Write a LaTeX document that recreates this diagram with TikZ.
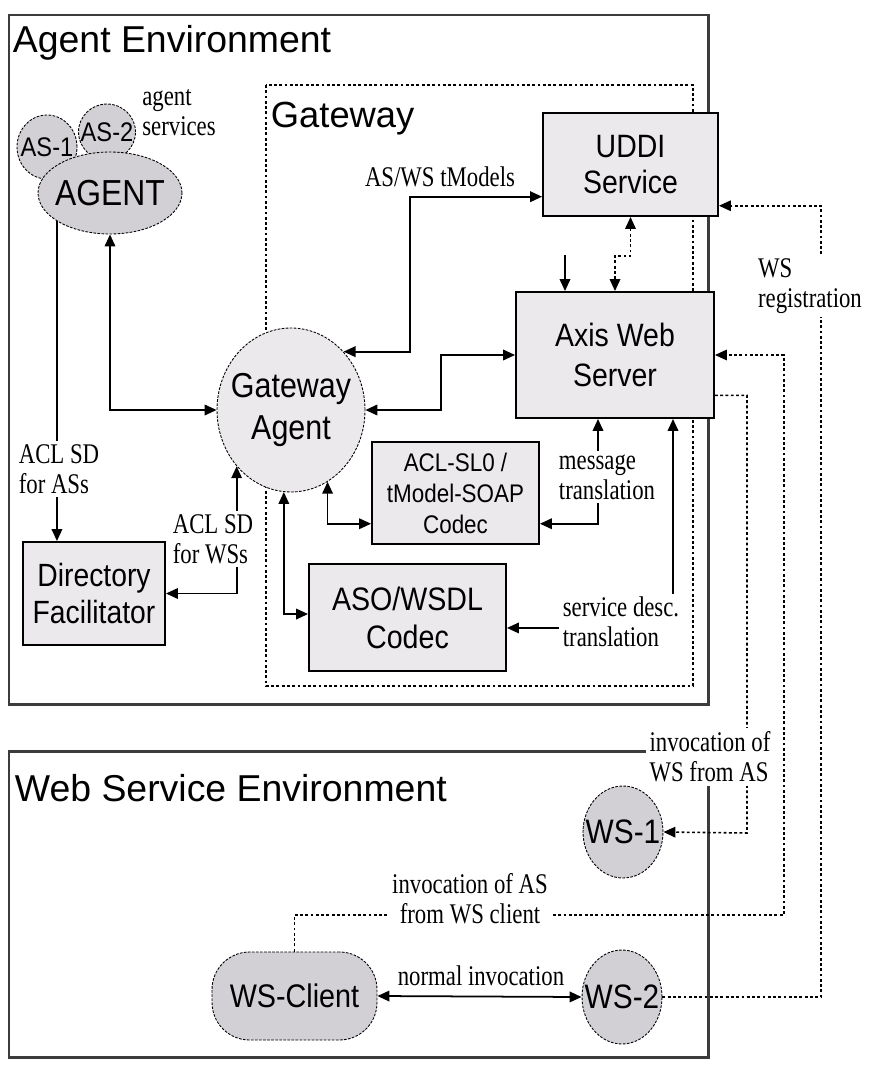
\documentclass[tikz,border=0pt]{standalone}
\usepackage{fontspec}
\setmainfont{Liberation Sans}
\newfontfamily\boxfont{Liberation Sans}[FakeStretch=0.88]
\newfontfamily\lblfont{Liberation Serif}[FakeStretch=0.8]
\usepackage{tikz}
\usetikzlibrary{shapes.geometric,arrows.meta}

\definecolor{boxfill}{RGB}{236,233,237}
\definecolor{agfill}{RGB}{211,208,213}
\definecolor{envline}{RGB}{60,60,60}
\newcommand{\zwtext}[1]{\makebox[0pt]{#1}}

\tikzset{
  box/.style={draw, line width=1.1pt, fill=boxfill, align=center, inner sep=0pt},
  blob/.style={ellipse, draw, dash pattern=on 1.5pt off 0.8pt, line width=0.5pt, fill=agfill, align=center, inner sep=0pt},
  lbl/.style={font=\lblfont\fontsize{16.2}{17}\selectfont, align=left, inner sep=2pt},
  cover/.style={lbl, fill=white},
  dots/.style={dash pattern=on 1.6pt off 1.4pt, line width=0.9pt},
  envbox/.style={draw=envline, line width=1.7pt},
  title/.style={font=\fontsize{21.3}{24}\selectfont, anchor=base west, inner sep=0pt}
}

\begin{document}
\begin{tikzpicture}[x=0.02cm, y=-0.02cm, line width=1pt, >={Triangle[length=6.8pt,width=6pt]}]
    \useasboundingbox (0,0) rectangle (875,1068);
    \draw[envbox] (9,15) rectangle (708,704);
    \draw[envbox] (9,751) rectangle (708,1057);
    \draw[dots] (266,85) rectangle (693,686);
    \node[title] (aetitle) at (12,53) {Agent Environment};
    \node[title, font=\fontsize{20.7}{24}\selectfont] (gwtitle) at (270,128) {Gateway};
    \node[title] (wstitle) at (14,801) {Web Service Environment};

    \node[blob, minimum width=1.2cm, minimum height=1.28cm, font=\boxfont\fontsize{15.3}{17}\selectfont] (as1) at (47,147) {\zwtext{AS-1}};
    \node[blob, minimum width=1.14cm, minimum height=1.12cm, font=\boxfont\fontsize{15.3}{17}\selectfont] (as2) at (107,132) {\zwtext{AS-2}};
    \node[blob, minimum width=2.88cm, minimum height=1.64cm, font=\boxfont\fontsize{20.6}{24}\selectfont] (agent) at (110,193) {\zwtext{AGENT}};
    \node[box, minimum width=3.5cm, minimum height=2.06cm, font=\boxfont\fontsize{18.4}{21}\selectfont] (uddi) at (630.5,164.5) {UDDI\\Service};
    \node[box, minimum width=3.96cm, minimum height=2.52cm, font=\boxfont\fontsize{18.4}{22.7}\selectfont] (axis) at (615,355) {Axis Web\\Server};
    \node[blob, fill=boxfill, minimum width=2.96cm, minimum height=3.28cm, font=\boxfont\fontsize{19.7}{24.4}\selectfont] (gwa) at (291,410) {\zwtext{Gateway}\\\zwtext{Agent}};
    \node[box, minimum width=3.34cm, minimum height=2.04cm, font=\boxfont\fontsize{14.5}{17.6}\selectfont] (acl) at (455.5,493) {ACL-SL0 /\\tModel-SOAP\\Codec};
    \node[box, minimum width=3.94cm, minimum height=2.14cm, font=\boxfont\fontsize{18.5}{21.5}\selectfont] (aso) at (407.5,617.5) {ASO/WSDL\\Codec};
    \node[box, minimum width=2.84cm, minimum height=2.06cm, font=\boxfont\fontsize{18.3}{21.5}\selectfont] (df) at (94,593.5) {Directory\\Facilitator};
    \node[blob, minimum width=1.6cm, minimum height=1.84cm, font=\boxfont\fontsize{19.3}{22}\selectfont] (ws1) at (623,832) {\zwtext{WS-1}};
    \node[blob, minimum width=1.6cm, minimum height=1.88cm, font=\boxfont\fontsize{19.3}{22}\selectfont] (ws2) at (622,997) {\zwtext{WS-2}};
    \node[box, rounded corners=0.75cm, fill=agfill, dash pattern=on 1.5pt off 0.8pt, line width=0.5pt, minimum width=3.3cm, minimum height=1.76cm, font=\boxfont\fontsize{18.6}{22}\selectfont] (wsc) at (294.5,996) {WS-Client};

    \coordinate (tm) at (410,0);
    \coordinate (gx) at (441,0);
    \coordinate (drop) at (565,255);
    \coordinate (mt) at (598,0);
    \coordinate (sd) at (673,0);
    \coordinate (ia) at (784,915);
    \coordinate (iw) at (747,833);
    \coordinate (wr) at (821,600);

    \foreach \u / \v in {agent.south/gwa.west, gwa.226/df.east, gwa.297/acl.200, gwa.265/aso.178}
        \draw[<->] (\u) |- (\v);
    \draw[->] (agent.208) -- (agent.208 |- df.north);
    \draw[<->] (gwa.48) -- (gwa.48 -| tm) |- (uddi.200);
    \draw[<->] (gwa.east) -- (gwa.east -| gx) |- (axis.west);
    \draw[->] (drop) -- (drop |- axis.north);
    \draw[dots,<->] (uddi.south) -- ++(0,39) -| (axis.north);
    \draw[<->] (mt |- axis.south) |- (acl.340);
    \draw[<->] (sd |- axis.south) |- (aso.354);
    \draw[<->] (wsc.east) -- (ws2.west);
    \draw[dots,->] (wsc.north) |- (ia) |- (axis.east);
    \draw[dots,->] (axis.338) -| (iw) -- (ws1.east);
    \draw[dots,->] (ws2.east) -| (wr) |- (uddi.335);

    \node[lbl] (asvc) at (179,113) {agent\\services};
    \node[lbl] (tmod) at (440,177) {AS/WS tModels};
    \node[cover] (aclas) at (59,469) {ACL SD\\for ASs};
    \node[cover] (aclws) at (213,539) {ACL SD\\for WSs};
    \node[cover] (msg) at (607,477) {message\\translation};
    \node[cover] (sdt) at (621,622) {service desc.\\translation};
    \node[cover] (iwl) at (710,757) {invocation of\\WS from AS};
    \node[cover] (wrl) at (810,286) {WS\\registration};
    \node[cover, align=center] (ial) at (470,899) {invocation of AS\\from WS client};
    \node[lbl] (nil) at (481,976) {normal invocation};
\end{tikzpicture}
\end{document}
